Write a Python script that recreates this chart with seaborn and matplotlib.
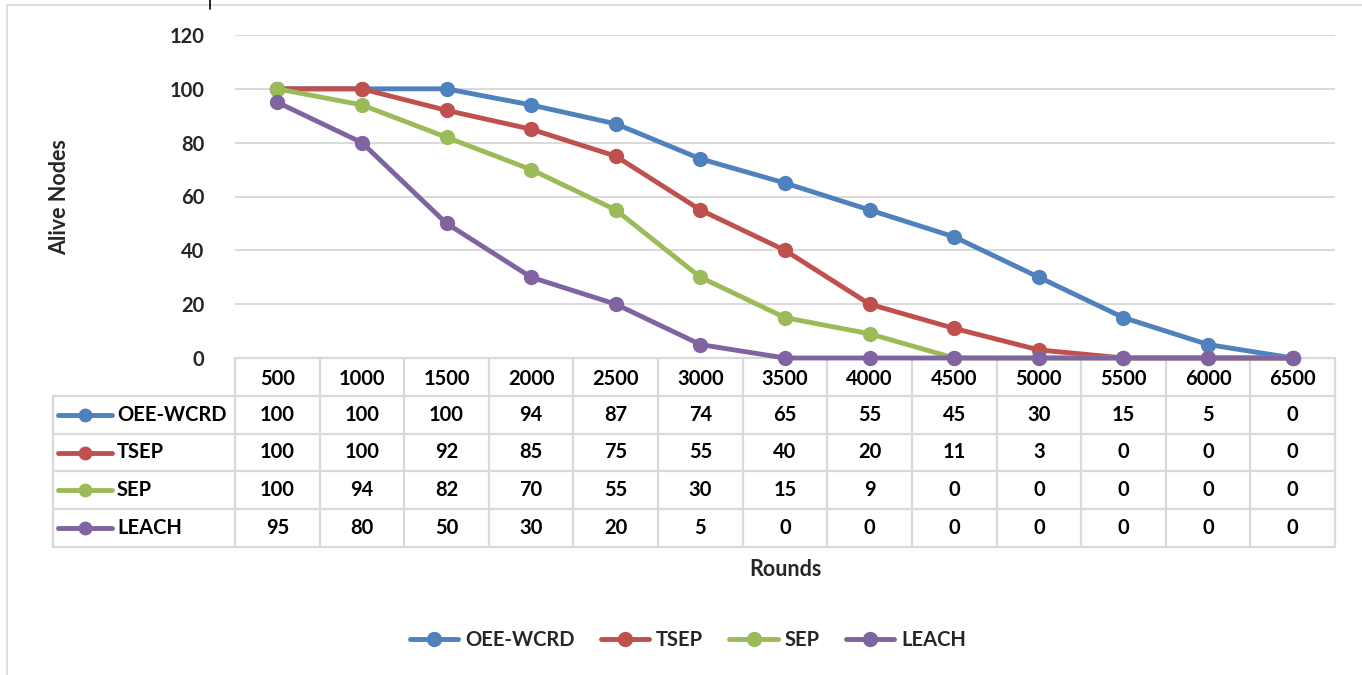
import matplotlib.pyplot as plt
import matplotlib.patches as mpatches
from matplotlib.lines import Line2D
import pandas as pd
import seaborn as sns

# Data
rounds = ['500', '1000', '1500', '2000', '2500', '3000', '3500', '4000', '4500', '5000', '5500', '6000', '6500']
oee_wcrd = [100, 100, 100, 94, 87, 74, 65, 55, 45, 30, 15, 5, 0]
tsep = [100, 100, 92, 85, 75, 55, 40, 20, 11, 3, 0, 0, 0]
sep = [100, 94, 82, 70, 55, 30, 15, 9, 0, 0, 0, 0, 0]
leach = [95, 80, 50, 30, 20, 5, 0, 0, 0, 0, 0, 0, 0]

names = ['OEE-WCRD', 'TSEP', 'SEP', 'LEACH']
series = [oee_wcrd, tsep, sep, leach]
colors = ['#4F81BD', '#C0504D', '#9BBB59', '#8064A2']

df = pd.DataFrame({
    'Rounds': rounds * 4,
    'Alive Nodes': oee_wcrd + tsep + sep + leach,
    'Protocol': [n for n in names for _ in rounds],
})

sns.set_theme(style="white")
plt.rcParams['font.family'] = ['Lato', 'DejaVu Sans']
WT = 'bold'
plt.rcParams['font.weight'] = WT
FS = 14.5
W, H = 1362, 675

fig = plt.figure(figsize=(W / 100, H / 100), dpi=100)

# outer chart border (left/top visible)
fig.add_artist(mpatches.Rectangle((7 / W, -0.1), 1.2, 1 - 5 / H + 0.1, transform=fig.transFigure,
                                  fill=False, edgecolor='#d9d9d9', linewidth=1.2))
fig.add_artist(Line2D([210 / W, 210 / W], [1, 1 - 9 / H], transform=fig.transFigure, color='black', lw=1.2))

# table axes
px_col = (1335 - 235) / 13
left_px = 53
x_left = -0.5 - (235 - left_px) / px_col
axt = fig.add_axes([left_px / W, 1 - 547 / H, (1335 - left_px) / W, (547 - 358) / H])
axt.set_xlim(x_left, 12.5)
axt.set_ylim(5, 0)
axt.axis('off')
grid_c = '#d9d9d9'
for k in range(14):
    axt.plot([k - 0.5, k - 0.5], [0, 5], color=grid_c, lw=1.6, clip_on=False)
axt.plot([x_left, x_left], [1, 5], color=grid_c, lw=1.6, clip_on=False)
axt.plot([-0.5, 12.5], [0, 0], color=grid_c, lw=1.6, clip_on=False)
for r in range(1, 6):
    axt.plot([x_left, 12.5], [r, r], color=grid_c, lw=1.6, clip_on=False)
for j, lab in enumerate(rounds):
    axt.text(j, 0.55, lab, ha='center', va='center', fontsize=FS, fontweight=WT, color='black')
for i, (name, vals, c) in enumerate(zip(names, series, colors)):
    y = i + 1.5
    for j, v in enumerate(vals):
        axt.text(j, y, str(v), ha='center', va='center', fontsize=FS, fontweight=WT, color='black')
    x0 = -0.5 - (235 - 58) / px_col
    x1 = -0.5 - (235 - 112) / px_col
    axt.plot([x0, x1], [y, y], color=c, lw=3.5, solid_capstyle='round', clip_on=False)
    axt.plot([(x0 + x1) / 2], [y], marker='o', color=c, markersize=10, markeredgewidth=0, clip_on=False)
    axt.text(-0.5 - (235 - 117) / px_col, y, name, ha='left', va='center', fontsize=FS,
             fontweight=WT, color='black')

# main line chart
ax = fig.add_axes([235 / W, 1 - 358 / H, 1100 / W, (358 - 35) / H])
ax.patch.set_alpha(0)
sns.lineplot(data=df, x='Rounds', y='Alive Nodes', hue='Protocol', palette=colors,
             marker='o', markersize=11, markeredgewidth=0, linewidth=3.5, legend=False, ax=ax)
for ln in ax.lines:
    ln.set_clip_on(False)
ax.set_xlim(-0.5, 12.5)
ax.set_ylim(0, 120)
ax.set_yticks(range(0, 121, 20))
ax.yaxis.grid(True, color='#d9d9d9', linewidth=1.4)
ax.set_axisbelow(True)
for s in ax.spines.values():
    s.set_visible(False)
ax.set_xticks([])
ax.set_xlabel('')
ax.set_ylabel('')
ax.tick_params(axis='y', length=0, pad=22, labelsize=FS)
for t in ax.get_yticklabels():
    t.set_fontweight(WT)

fig.text(60 / W, 1 - 197 / H, 'Alive Nodes', rotation=90, ha='center', va='center',
         fontsize=FS + 1, fontweight=WT)
fig.text(785 / W, 1 - 570 / H, 'Rounds', ha='center', va='center', fontsize=FS + 1, fontweight=WT)

handles = [Line2D([], [], color=c, lw=3.5, marker='o', markersize=11, markeredgewidth=0) for c in colors]
fig.legend(handles, names, loc='center', bbox_to_anchor=(688 / W, 1 - 640 / H), ncol=4, frameon=False,
           prop={'size': FS, 'weight': WT}, handlelength=2.4, handletextpad=0.35, columnspacing=1.3)

fig.savefig('out.png', dpi=100)
